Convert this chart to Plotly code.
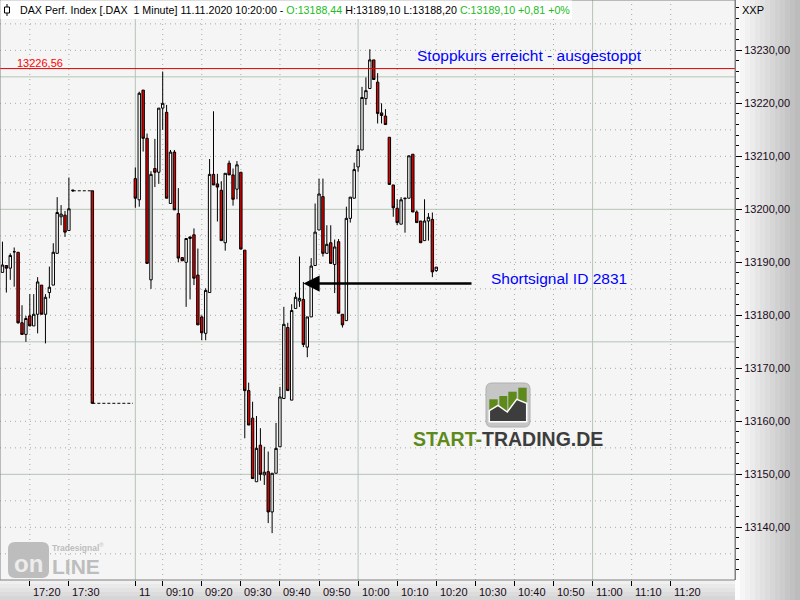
import plotly.graph_objects as go

# ---------------- data ----------------
# previous session (10.11.2020), one slot per minute
prev_slot = list(range(-41, -22))
prev_open = [13188.1, 13189.4, 13188.9, 13192.0, 13191.9, 13178.6, 13176.4, 13179.9, 13178.0, 13180.2,
             13185.7, 13180.2, 13184.3, 13185.7, 13191.7, 13198.6, 13198.9, 13196.0, 13203.5]
prev_high = [13193.9, 13189.4, 13191.7, 13192.8, 13191.9, 13181.9, 13179.9, 13184.0, 13184.0, 13187.2,
             13185.7, 13184.0, 13189.2, 13193.6, 13202.3, 13200.8, 13199.7, 13206.0, 13203.7]
prev_low = [13188.1, 13184.3, 13186.7, 13185.4, 13178.4, 13176.4, 13175.0, 13178.0, 13178.0, 13176.6,
            13180.2, 13174.7, 13183.2, 13185.7, 13191.7, 13197.0, 13194.8, 13196.0, 13203.3]
prev_close = [13189.5, 13188.9, 13191.3, 13192.0, 13178.6, 13176.4, 13179.4, 13178.0, 13180.2, 13186.3,
              13180.2, 13183.4, 13185.3, 13191.9, 13199.4, 13199.1, 13195.7, 13200.1, 13203.6]

# isolated bar in the overnight gap
gap_slot = [-18]
gap_open = [13203.5]
gap_high = [13203.5]
gap_low = [13163.4]
gap_close = [13163.4]

# dashed "no data" connections
nodata1_x = [-23, -18]
nodata1_y = [13203.5, 13203.5]
nodata2_x = [-18, -7.6]
nodata2_y = [13163.4, 13163.4]

# session 11.11.2020
day_slot = list(range(-7, 71))
day_open = [13205.8, 13201.8, 13222.5, 13213.4, 13186.7, 13207.7, 13207.0, 13219.1, 13218.3, 13201.1,
            13210.8, 13199.2, 13190.9, 13190.0, 13194.5, 13195.2, 13187.6, 13179.7, 13176.6, 13184.3,
            13206.6, 13204.8, 13203.6, 13193.7, 13208.7, 13206.5, 13203.8, 13207.0, 13192.3, 13165.8,
            13160.6, 13148.6, 13155.5, 13149.9, 13150.5, 13142.9, 13150.2, 13155.2, 13164.3, 13177.7,
            13164.0, 13181.3, 13182.7, 13183.0, 13174.0, 13179.7, 13189.4, 13196.1, 13202.4, 13191.7,
            13193.7, 13189.6, 13193.9, 13180.2, 13179.0, 13198.3, 13202.1, 13208.0, 13211.2, 13220.9,
            13222.8, 13228.2, 13224.0, 13218.2, 13217.6, 13213.6, 13204.6, 13200.2, 13197.2, 13202.0,
            13202.1, 13210.4, 13199.5, 13197.8, 13194.1, 13197.8, 13198.1, 13188.44]
day_high = [13207.9, 13222.2, 13222.5, 13214.3, 13207.2, 13213.3, 13219.1, 13226.0, 13219.7, 13211.2,
            13211.2, 13204.0, 13190.9, 13194.5, 13194.8, 13196.4, 13192.6, 13180.0, 13185.1, 13209.5,
            13218.5, 13206.7, 13205.3, 13206.8, 13209.2, 13207.7, 13209.1, 13207.0, 13192.3, 13167.3,
            13163.7, 13161.0, 13158.7, 13155.2, 13154.3, 13150.2, 13159.7, 13166.5, 13181.6, 13178.6,
            13182.1, 13184.3, 13191.1, 13186.3, 13179.7, 13190.8, 13201.1, 13205.8, 13205.8, 13197.0,
            13197.0, 13194.3, 13194.4, 13180.2, 13200.5, 13202.3, 13208.8, 13212.1, 13223.1, 13224.9,
            13230.2, 13228.2, 13225.7, 13220.0, 13218.9, 13213.6, 13204.6, 13201.9, 13202.3, 13202.1,
            13210.1, 13210.4, 13199.8, 13197.8, 13201.9, 13199.3, 13199.4, 13189.10]
day_low = [13200.3, 13200.5, 13210.9, 13189.8, 13185.0, 13204.2, 13204.8, 13215.0, 13202.1, 13201.1,
           13199.9, 13190.0, 13190.3, 13181.6, 13183.0, 13185.7, 13178.2, 13175.3, 13175.3, 13184.3,
           13204.6, 13197.7, 13194.1, 13192.2, 13206.5, 13200.7, 13201.9, 13192.5, 13156.8, 13159.3,
           13149.2, 13148.6, 13148.8, 13148.0, 13140.8, 13138.9, 13150.2, 13155.2, 13164.3, 13165.8,
           13164.0, 13181.3, 13181.6, 13174.0, 13172.1, 13179.7, 13189.4, 13196.1, 13191.1, 13191.7,
           13189.8, 13184.2, 13180.4, 13177.7, 13179.0, 13197.5, 13202.1, 13207.1, 13211.2, 13219.7,
           13222.8, 13224.5, 13216.2, 13216.2, 13216.0, 13204.7, 13198.6, 13197.0, 13197.2, 13195.6,
           13202.1, 13199.5, 13197.5, 13193.7, 13194.1, 13194.1, 13187.2, 13188.20]
day_close = [13202.1, 13221.9, 13213.4, 13189.8, 13206.6, 13207.0, 13219.1, 13220.0, 13202.1, 13210.8,
             13199.9, 13190.8, 13190.3, 13194.5, 13194.8, 13187.0, 13178.2, 13176.7, 13184.7, 13206.6,
             13204.6, 13204.2, 13194.1, 13206.8, 13206.5, 13201.9, 13208.4, 13192.5, 13165.8, 13159.3,
             13149.2, 13154.9, 13150.0, 13150.4, 13142.9, 13150.2, 13154.9, 13164.6, 13178.3, 13165.8,
             13180.9, 13183.4, 13183.2, 13174.5, 13179.7, 13189.3, 13195.7, 13202.9, 13191.7, 13193.4,
             13189.8, 13192.9, 13180.4, 13178.2, 13198.3, 13202.3, 13207.5, 13211.3, 13221.1, 13222.4,
             13228.2, 13224.5, 13218.1, 13217.7, 13216.0, 13204.7, 13200.3, 13197.5, 13201.8, 13202.1,
             13210.1, 13199.5, 13197.5, 13193.7, 13197.8, 13198.5, 13188.2, 13189.10]

x_tick_slots = [-34, -24, -7, 0, 10, 20, 30, 40, 50, 60, 70, 80, 90, 100, 110, 120, 130]
x_tick_labels = ["17:20", "17:30", "11", "09:10", "09:20", "09:30", "09:40", "09:50", "10:00",
                 "10:10", "10:20", "10:30", "10:40", "10:50", "11:00", "11:10", "11:20"]
hour_line_slots = [-7, 50, 110]

stop_level = 13226.56
stop_label = "13226,56"
signal_level = 13186.0
signal_slot = 36
signal_text_slot = 79.4

# ---------------- figure ----------------
W_PLOT, H_PLOT = 735.0, 580.0
def px(x):
    return x / W_PLOT
def py(y):
    return 1 - y / H_PLOT

X_RANGE = [-41.63, 146.44]
Y_RANGE = [13130.06, 13239.5]

fig = go.Figure()

candle_style = dict(
    increasing=dict(line=dict(color="black", width=1), fillcolor="white"),
    decreasing=dict(line=dict(color="black", width=1), fillcolor="#e00000"),
    whiskerwidth=0, showlegend=False, hoverinfo="skip",
)
fig.add_trace(go.Candlestick(x=prev_slot + gap_slot + day_slot,
                             open=prev_open + gap_open + day_open,
                             high=prev_high + gap_high + day_high,
                             low=prev_low + gap_low + day_low,
                             close=prev_close + gap_close + day_close, **candle_style))
for xs, ys in [(nodata1_x, nodata1_y), (nodata2_x, nodata2_y)]:
    fig.add_trace(go.Scatter(x=xs, y=ys, mode="lines", showlegend=False, hoverinfo="skip",
                             line=dict(color="black", width=1, dash="3px,2px")))

GRID_DOT = dict(color="#9fae9f", width=1, dash="1px,4px")
GRID_SOLID = dict(color="#b5c5b5", width=1)
shapes = []
# horizontal grid
v = 13135
while v < 13240:
    solid = (v % 25 == 0)
    shapes.append(dict(type="line", xref="paper", yref="y", x0=0, x1=1, y0=v, y1=v, layer="below",
                       line=GRID_SOLID if solid else GRID_DOT))
    v += 5
# vertical grid
for s in x_tick_slots:
    solid = s in hour_line_slots
    shapes.append(dict(type="line", xref="x", yref="paper", x0=s, x1=s, y0=0, y1=1, layer="below",
                       line=GRID_SOLID if solid else GRID_DOT))
# stop line
shapes.append(dict(type="line", xref="paper", yref="y", x0=0, x1=1, y0=stop_level, y1=stop_level,
                   layer="above", line=dict(color="#e00000", width=1)))

# right axis panel gradient
n = 13
for i in range(n):
    c = int(252 - (252 - 188) * i / (n - 1))
    shapes.append(dict(type="rect", xref="paper", yref="paper", layer="below",
                       x0=px(735 + i * 5), x1=px(735 + (i + 1) * 5 + 0.5), y0=py(600), y1=py(0),
                       fillcolor=f"rgb({c},{c},{c})", line=dict(width=0)))
# bottom axis band
for i in range(5):
    c = int(240 - (240 - 214) * i / 4)
    shapes.append(dict(type="rect", xref="paper", yref="paper", layer="below",
                       x0=0, x1=1, y0=py(580 + i * 4), y1=py(580 + (i + 1) * 4 + 0.5),
                       fillcolor=f"rgb({c},{c},{c})", line=dict(width=0)))
# plot border
shapes.append(dict(type="rect", xref="paper", yref="paper", x0=0, x1=1, y0=0, y1=1, layer="above",
                   line=dict(color="#808080", width=1)))
# header white box
shapes.append(dict(type="rect", xref="paper", yref="paper", x0=px(0.5), x1=px(572), y0=py(19), y1=py(0.5),
                   layer="above", fillcolor="white", line=dict(width=0)))
# header icon
shapes.append(dict(type="line", xref="paper", yref="paper", x0=px(7), x1=px(7), y0=py(4), y1=py(16),
                   layer="above", line=dict(color="black", width=1)))
shapes.append(dict(type="rect", xref="paper", yref="paper", x0=px(4.5), x1=px(9.5), y0=py(13), y1=py(7),
                   layer="above", fillcolor="white", line=dict(color="black", width=1)))

# START-TRADING.DE icon
def rr(x0, y0, x1, y1, r):
    return (f"M {px(x0+r)},{py(y0)} L {px(x1-r)},{py(y0)} Q {px(x1)},{py(y0)} {px(x1)},{py(y0+r)} "
            f"L {px(x1)},{py(y1-r)} Q {px(x1)},{py(y1)} {px(x1-r)},{py(y1)} L {px(x0+r)},{py(y1)} "
            f"Q {px(x0)},{py(y1)} {px(x0)},{py(y1-r)} L {px(x0)},{py(y0+r)} Q {px(x0)},{py(y0)} {px(x0+r)},{py(y0)} Z")
shapes.append(dict(type="path", xref="paper", yref="paper", path=rr(486, 383, 530, 427, 6),
                   fillcolor="#c6c6c6", line=dict(color="#b0b0b0", width=1), layer="above"))
for (x0, x1, top) in [(489.3, 497.7, 399.3), (499.3, 507.3, 396), (508.3, 516.7, 391.7), (518.3, 526.7, 387.7)]:
    shapes.append(dict(type="rect", xref="paper", yref="paper", x0=px(x0), x1=px(x1), y0=py(421.7), y1=py(top),
                       fillcolor="#5e8a1c", line=dict(width=0), layer="above"))
poly = [(489.3, 410.7), (498, 405.3), (507.3, 412), (516.7, 399.3), (526.7, 403.3)]
path = "M " + " L ".join(f"{px(a)},{py(b)}" for a, b in poly)
path += f" L {px(526.7)},{py(421.7)} L {px(489.3)},{py(421.7)} Z"
shapes.append(dict(type="path", xref="paper", yref="paper", path=path, fillcolor="#3d3d3d",
                   line=dict(color="white", width=1.5), layer="above"))

# Tradesignal online watermark
shapes.append(dict(type="path", xref="paper", yref="paper", path=rr(8, 542, 49, 578, 7),
                   fillcolor="#bdbdbd", line=dict(width=0), layer="above"))

FONT = "Liberation Sans, Arial"
annotations = []
# header text
hdr = ("DAX Perf. Index [.DAX&nbsp;&nbsp;1 Minute] 11.11.2020 10:20:00 - "
       "<span style='color:#22bb22'>O:13188,44</span> H:13189,10 L:13188,20 "
       "<span style='color:#22bb22'>C:13189,10 +0,81 +0%</span>")
annotations.append(dict(text=hdr, xref="paper", yref="paper", x=px(18), y=py(10), xanchor="left",
                        yanchor="middle", showarrow=False,
                        font=dict(family=FONT, size=10.7, color="black")))
annotations.append(dict(text="XXP", xref="paper", yref="paper", x=px(740), y=py(10), xanchor="left",
                        yanchor="middle", showarrow=False,
                        font=dict(family=FONT, size=11, color="black")))
# x tick labels
for s, lab in zip(x_tick_slots, x_tick_labels):
    annotations.append(dict(text=lab, xref="x", yref="paper", x=s, y=py(591.5), xanchor="left",
                            yanchor="middle", xshift=1.5, showarrow=False,
                            font=dict(family=FONT, size=11, color="#1a0a1a")))
# stop label
annotations.append(dict(text=stop_label, xref="paper", yref="y", x=px(15), y=stop_level, yshift=6,
                        xanchor="left", yanchor="middle", showarrow=False,
                        font=dict(family=FONT, size=11, color="#ff0000")))
annotations.append(dict(text="Stoppkurs erreicht - ausgestoppt", xref="paper", yref="paper",
                        x=px(415), y=py(55), xanchor="left", yanchor="middle", showarrow=False,
                        font=dict(family=FONT, size=15.5, color="#0000ff")))
annotations.append(dict(text="Shortsignal ID 2831", xref="paper", yref="paper",
                        x=px(489), y=py(278), xanchor="left", yanchor="middle", showarrow=False,
                        font=dict(family=FONT, size=15.5, color="#0000ff")))
# signal arrow
annotations.append(dict(text="", x=signal_slot, y=signal_level, xref="x", yref="y",
                        ax=signal_text_slot, ay=signal_level, axref="x", ayref="y",
                        showarrow=True, arrowhead=2, arrowsize=1.3, arrowwidth=2.5,
                        arrowcolor="black", standoff=0))
# logo text
annotations.append(dict(text="<b><span style='color:#5e8a1c'>START-</span>TRADING.DE</b>",
                        xref="paper", yref="paper", x=px(508), y=py(439), xanchor="center",
                        yanchor="middle", showarrow=False,
                        font=dict(family=FONT, size=19.5, color="#3d3d3d")))
annotations.append(dict(text="<b>on</b>", xref="paper", yref="paper", x=px(28.5), y=py(563),
                        xanchor="center", yanchor="middle", showarrow=False,
                        font=dict(family=FONT, size=24, color="#ececec")))
annotations.append(dict(text="<b>LINE</b>", xref="paper", yref="paper", x=px(50), y=py(566),
                        xanchor="left", yanchor="middle", showarrow=False,
                        font=dict(family=FONT, size=21, color="#bdbdbd")))
annotations.append(dict(text="<b>Tradesignal</b><sup>®</sup>", xref="paper", yref="paper", x=px(50),
                        y=py(547), xanchor="left", yanchor="middle", showarrow=False,
                        font=dict(family=FONT, size=8.5, color="#bdbdbd")))

fig.update_layout(
    width=800, height=600,
    margin=dict(l=0, r=65, t=0, b=20, pad=0),
    paper_bgcolor="#efefef", plot_bgcolor="#f5f5f5",
    separators=",.",
    boxgap=0.12,
    shapes=shapes, annotations=annotations,
    showlegend=False, hovermode=False,
    xaxis=dict(range=X_RANGE, rangeslider=dict(visible=False), showgrid=False, zeroline=False,
               tickvals=x_tick_slots, showticklabels=False, ticks="outside",
               ticklen=5, tickcolor="black", tickwidth=1, showline=False, fixedrange=True),
    yaxis=dict(range=Y_RANGE, side="right", showgrid=False, zeroline=False, tick0=13130, dtick=10,
               tickformat=".2f", ticks="outside", ticklen=6, tickcolor="black", tickwidth=1,
               minor=dict(dtick=2, ticks="outside", ticklen=3, tickcolor="black", showgrid=False),
               tickfont=dict(family=FONT, size=11, color="#1a0a1a"),
               showline=True, linecolor="#808080", linewidth=1, fixedrange=True),
)

fig.write_html("out.html", config={"displayModeBar": False},
               post_script="document.body.style.margin='0';document.body.style.overflow='hidden';")
